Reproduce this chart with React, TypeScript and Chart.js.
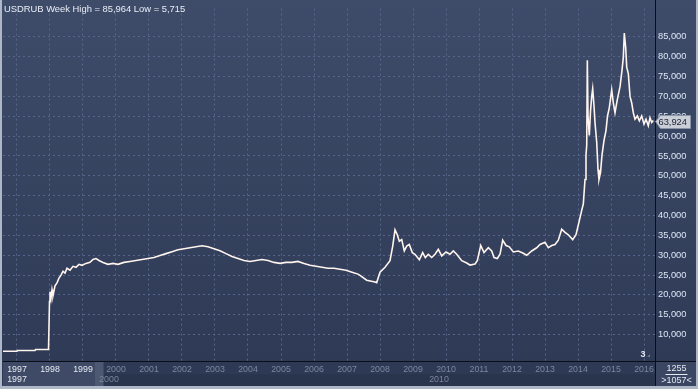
import React, { useEffect, useRef } from 'react';
import { Chart, registerables } from 'chart.js';

Chart.register(...registerables);

const TITLE = 'USDRUB Week High = 85,964 Low = 5,715';
const yearTicks = [1997, 1998, 1999, 2000, 2001, 2002, 2003, 2004, 2005, 2006, 2007, 2008, 2009, 2010, 2011, 2012, 2013, 2014, 2015, 2016];
const rateTicks = [10, 15, 20, 25, 30, 35, 40, 45, 50, 55, 60, 65, 70, 75, 80, 85];
const navYears = [1997, 2000, 2010];
const barsCount = '1255';
const cursorLabel = '>1057<';
const lastLabel = '63,924';
const markerLabel = '3';

const dates = [
  1996.576, 1997.0, 1997.015, 1997.545, 1997.561, 1997.955, 1997.985, 1998.0, 1998.03, 1998.061,
  1998.091, 1998.152, 1998.212, 1998.273, 1998.333, 1998.394, 1998.455, 1998.515, 1998.606, 1998.697,
  1998.788, 1998.879, 1998.97, 1999.091, 1999.212, 1999.303, 1999.394, 1999.485, 1999.606, 1999.758,
  1999.909, 2000.061, 2000.242, 2000.424, 2000.606, 2000.788, 2000.97, 2001.152, 2001.333, 2001.515,
  2001.697, 2001.879, 2002.061, 2002.242, 2002.424, 2002.606, 2002.788, 2002.97, 2003.152, 2003.333,
  2003.515, 2003.697, 2003.879, 2004.061, 2004.242, 2004.424, 2004.606, 2004.788, 2004.97, 2005.152,
  2005.333, 2005.515, 2005.697, 2005.879, 2006.061, 2006.242, 2006.424, 2006.606, 2006.788, 2006.97,
  2007.152, 2007.333, 2007.394, 2007.597, 2007.848, 2007.9, 2008.0, 2008.152, 2008.303, 2008.385,
  2008.455, 2008.524, 2008.585, 2008.658, 2008.736, 2008.809, 2008.888, 2008.979, 2009.061, 2009.191,
  2009.294, 2009.373, 2009.464, 2009.567, 2009.667, 2009.767, 2009.87, 2010.0, 2010.121, 2010.221,
  2010.324, 2010.476, 2010.627, 2010.727, 2010.879, 2010.948, 2011.052, 2011.152, 2011.282, 2011.385,
  2011.455, 2011.555, 2011.636, 2011.718, 2011.818, 2011.918, 2012.039, 2012.191, 2012.342, 2012.445,
  2012.597, 2012.748, 2012.848, 2013.0, 2013.1, 2013.203, 2013.303, 2013.403, 2013.506, 2013.606,
  2013.706, 2013.839, 2013.939, 2014.009, 2014.112, 2014.161, 2014.212, 2014.242, 2014.264, 2014.282,
  2014.303, 2014.342, 2014.379, 2014.415, 2014.445, 2014.485, 2014.515, 2014.567, 2014.606, 2014.636,
  2014.682, 2014.727, 2014.788, 2014.848, 2014.894, 2014.948, 2015.021, 2015.07, 2015.121, 2015.191,
  2015.273, 2015.333, 2015.373, 2015.403, 2015.445, 2015.476, 2015.524, 2015.576, 2015.627, 2015.676,
  2015.727, 2015.797, 2015.858, 2015.93, 2016.0, 2016.061, 2016.13, 2016.182, 2016.233, 2016.282,
];

const rates = [
  5.81, 5.81, 5.98, 5.98, 6.23, 6.23, 18.35, 20.81, 19.09, 21.3,
  19.83, 22.29, 23.02, 24.25, 24.99, 25.97, 25.48, 26.71, 26.22, 27.2,
  26.96, 27.7, 27.45, 27.94, 28.19, 28.93, 29.17, 28.68, 28.19, 27.7,
  27.94, 27.7, 28.19, 28.43, 28.68, 28.93, 29.17, 29.42, 29.91, 30.4,
  30.89, 31.39, 31.63, 31.88, 32.12, 32.37, 32.12, 31.63, 31.14, 30.4,
  29.66, 29.17, 28.68, 28.43, 28.68, 28.93, 28.68, 28.19, 27.94, 28.19,
  28.19, 28.43, 27.94, 27.45, 27.2, 26.96, 26.71, 26.71, 26.47, 26.22,
  25.73, 25.24, 24.92, 23.69, 23.27, 23.1, 25.73, 26.96, 28.61, 32.3,
  36.38, 35.15, 33.52, 33.92, 31.07, 32.3, 32.69, 30.65, 30.23, 28.85,
  30.65, 29.42, 30.23, 29.42, 30.23, 31.46, 29.84, 30.82, 30.23, 31.07,
  30.23, 28.61, 28.02, 27.52, 27.77, 28.61, 32.44, 30.65, 31.88, 31.07,
  29.42, 29.17, 30.23, 33.77, 32.44, 32.12, 30.82, 31.07, 30.48, 29.98,
  31.07, 31.88, 32.69, 33.28, 31.88, 32.44, 32.69, 33.77, 36.55, 35.74,
  35.15, 33.92, 35.15, 37.61, 41.3, 42.94, 49.09, 55.24, 57.7, 79.1,
  65.08, 60.16, 66.31, 70.0, 71.97, 67.54, 63.36, 58.44, 51.55, 49.09,
  50.81, 55.24, 58.93, 61.39, 65.08, 67.12, 71.65, 68.35, 65.89, 69.19,
  72.46, 76.56, 79.84, 85.96, 82.29, 77.38, 75.73, 70.0, 68.35, 65.89,
  64.27, 65.08, 63.85, 65.08, 63.04, 64.27, 62.62, 64.66, 63.43, 63.92,
];

const FONT = '"Liberation Sans", Arial, sans-serif';

const deco = {
  id: 'deco',
  beforeDraw(chart: any) {
    const { ctx, width: W, height: H, chartArea: ca } = chart;
    const xs = chart.scales.x;
    ctx.save();
    const g = ctx.createLinearGradient(0, 0, 0, ca.bottom);
    g.addColorStop(0, '#3f4c69');
    g.addColorStop(1, '#2e3a56');
    ctx.fillStyle = g;
    ctx.fillRect(0, 0, W, H);
    // bottom navigator band
    ctx.fillStyle = '#2e3a55';
    ctx.fillRect(0, ca.bottom, W, H - ca.bottom);
    ctx.fillStyle = '#29344d';
    ctx.fillRect(ca.left, ca.bottom + 13, ca.right - ca.left, H - ca.bottom - 13);
    const hx = xs.getPixelForValue(1999.35);
    ctx.fillStyle = '#3e4a66';
    ctx.fillRect(ca.left, ca.bottom, hx - ca.left, 25);
    ctx.fillStyle = '#4d5872';
    ctx.fillRect(hx, ca.bottom, 9, 25);
    // right info box
    ctx.fillStyle = '#3a4662';
    ctx.fillRect(ca.right, ca.bottom, W - ca.right, H - ca.bottom);
    ctx.restore();
  },
  afterDraw(chart: any) {
    const { ctx, width: W, height: H, chartArea: ca } = chart;
    const xs = chart.scales.x;
    const ys = chart.scales.y;
    ctx.save();
    // separators
    ctx.fillStyle = '#0a0e16';
    ctx.fillRect(ca.right, 0, 1, H - 3);
    ctx.fillRect(ca.left, ca.bottom, W - ca.left, 1);
    // frame
    ctx.fillStyle = '#aeb7c8';
    ctx.fillRect(0, 0, 2, H);
    ctx.fillRect(W - 2, 0, 2, H);
    ctx.fillRect(0, H - 3, W, 3);
    // title
    ctx.font = `9.4px ${FONT}`;
    ctx.fillStyle = '#e8edf5';
    ctx.textAlign = 'left';
    ctx.textBaseline = 'alphabetic';
    ctx.fillText(TITLE, 4, 12);
    // second navigator row
    ctx.font = `8.8px ${FONT}`;
    navYears.forEach((yr, i) => {
      const px = xs.getPixelForValue(yr) - (i === 0 ? 0 : 7);
      ctx.fillStyle = i === 0 ? '#e4e9f2' : '#7b879e';
      ctx.textAlign = 'center';
      ctx.fillText(String(yr), px, ca.bottom + 21);
    });
    // right box texts
    const cx = (ca.right + W - 2) / 2 + 1;
    ctx.fillStyle = '#e4e9f2';
    ctx.textAlign = 'center';
    ctx.font = `9px ${FONT}`;
    ctx.fillText(barsCount, cx, ca.bottom + 10);
    ctx.fillRect(cx - 11, ca.bottom + 13, 22, 1);
    ctx.fillText(cursorLabel, cx, ca.bottom + 22);
    // marker "3"
    ctx.font = `bold 9px ${FONT}`;
    ctx.fillStyle = '#e4e9f2';
    ctx.fillText(markerLabel, ca.right - 12, ca.bottom - 4);
    ctx.fillStyle = '#6b7690';
    ctx.beginPath();
    ctx.moveTo(ca.right - 8, ca.bottom - 4);
    ctx.lineTo(ca.right - 5, ca.bottom - 7);
    ctx.lineTo(ca.right - 5, ca.bottom - 4);
    ctx.closePath();
    ctx.fill();
    // price tag
    const last = rates[rates.length - 1];
    const py = Math.round(ys.getPixelForValue(last)) + 0.5;
    const x0 = ca.right + 0.5;
    ctx.beginPath();
    ctx.moveTo(x0, py);
    ctx.lineTo(x0 + 5, py - 6);
    ctx.lineTo(x0 + 35, py - 6);
    ctx.lineTo(x0 + 35, py + 7);
    ctx.lineTo(x0 + 5, py + 7);
    ctx.closePath();
    ctx.fillStyle = '#c9ced7';
    ctx.fill();
    ctx.strokeStyle = '#8a93a5';
    ctx.lineWidth = 1;
    ctx.stroke();
    ctx.fillStyle = '#1a2132';
    ctx.font = `9.3px ${FONT}`;
    ctx.textAlign = 'left';
    ctx.textBaseline = 'middle';
    ctx.fillText(lastLabel, x0 + 3, py + 0.5);
    ctx.restore();
  },
};

export default function App() {
  const ref = useRef<HTMLCanvasElement | null>(null);
  useEffect(() => {
    document.body.style.margin = '0';
    const canvas = ref.current!;
    const points = dates.map((d, i) => ({ x: d, y: rates[i] }));
    const chart = new Chart(canvas, {
      type: 'line',
      data: {
        datasets: [
          {
            data: points,
            borderColor: '#fff4ee',
            borderWidth: 1.6,
            pointRadius: 0,
            tension: 0,
            fill: false,
          },
        ],
      },
      options: {
        animation: false,
        responsive: false,
        devicePixelRatio: 1,
        layout: { padding: { left: 3, right: 0, top: 0, bottom: 0 } },
        plugins: { legend: { display: false }, tooltip: { enabled: false }, title: { display: false } },
        scales: {
          x: {
            type: 'linear',
            position: 'bottom',
            min: 1996.576,
            max: 2016.333,
            afterBuildTicks: (s: any) => {
              s.ticks = yearTicks.map((v) => ({ value: v }));
            },
            afterFit: (s: any) => {
              s.height = 28;
            },
            grid: { color: '#56658a', drawTicks: false, lineWidth: 1 },
            border: { display: false, dash: [2, 3] },
            ticks: {
              autoSkip: false,
              maxRotation: 0,
              padding: 3,
              font: { size: 8.8, family: FONT },
              color: (c: any) => (c.tick && c.tick.value < 2000 ? '#e4e9f2' : '#7b879e'),
              callback: (v: any) => String(v),
            },
          },
          y: {
            type: 'linear',
            position: 'right',
            min: 3.35,
            max: 92.13,
            afterBuildTicks: (s: any) => {
              s.ticks = rateTicks.map((v) => ({ value: v }));
            },
            afterFit: (s: any) => {
              s.width = 43;
            },
            grid: { color: '#56658a', drawTicks: false, lineWidth: 1 },
            border: { display: false, dash: [2, 3] },
            ticks: {
              padding: 3,
              font: { size: 9.3, family: FONT },
              color: '#dce6f5',
              callback: (v: any) => `${v},000`,
            },
          },
        },
      },
      plugins: [deco],
    });
    return () => chart.destroy();
  }, []);
  return (
    <div style={{ position: 'fixed', left: 0, top: 0, width: 698, height: 389 }}>
      <canvas ref={ref} width={698} height={389} style={{ display: 'block' }} />
    </div>
  );
}
